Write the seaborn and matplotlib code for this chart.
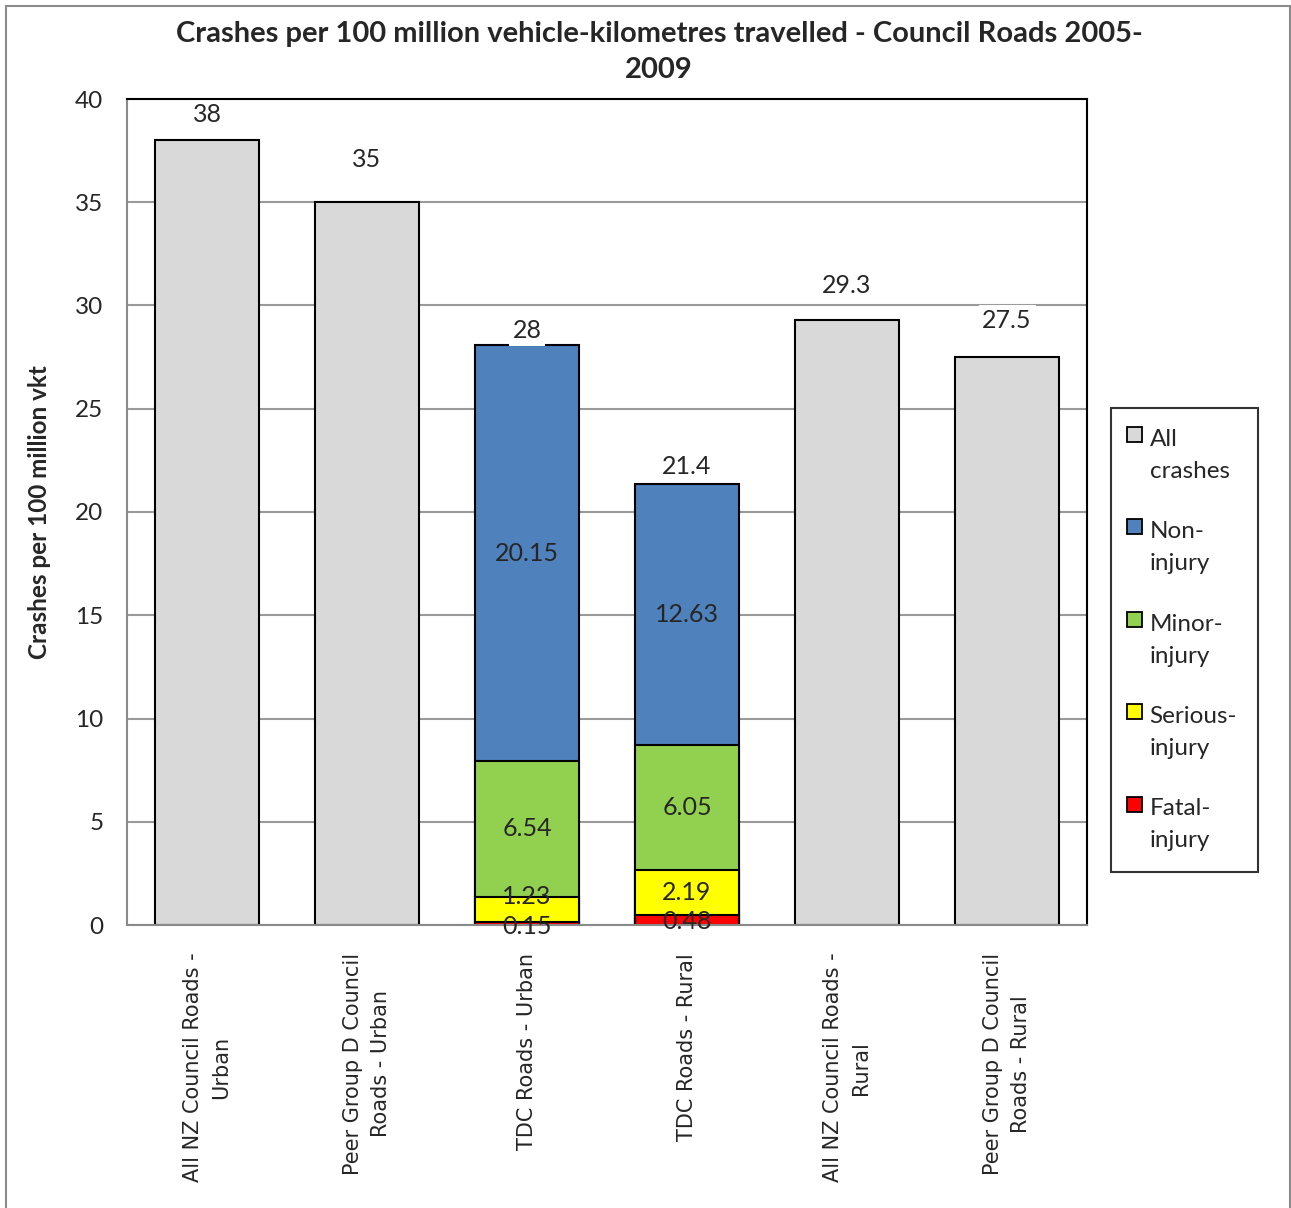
import numpy as np
import pandas as pd
import matplotlib
matplotlib.use("Agg")
import matplotlib.pyplot as plt
import matplotlib.patches as mpatches
from matplotlib.font_manager import FontProperties
from matplotlib.legend_handler import HandlerBase
import seaborn as sns

categories = ["All NZ Council Roads -\nUrban", "Peer Group D Council\nRoads - Urban",
              "TDC Roads - Urban", "TDC Roads - Rural",
              "All NZ Council Roads -\nRural", "Peer Group D Council\nRoads - Rural"]
all_crashes = [38, 35, np.nan, np.nan, 29.3, 27.5]
total_labels = ["38", "35", "28", "21.4", "29.3", "27.5"]
fatal = [np.nan, np.nan, 0.15, 0.48, np.nan, np.nan]
serious = [np.nan, np.nan, 1.23, 2.19, np.nan, np.nan]
minor = [np.nan, np.nan, 6.54, 6.05, np.nan, np.nan]
non_injury = [np.nan, np.nan, 20.15, 12.63, np.nan, np.nan]
series_names = ["All\ncrashes", "Non-\ninjury", "Minor-\ninjury", "Serious-\ninjury", "Fatal-\ninjury"]
yticks = [0, 5, 10, 15, 20, 25, 30, 35, 40]

colors = {"all": "#D9D9D9", "non": "#4F81BD", "minor": "#92D050", "serious": "#FFFF00", "fatal": "#FF0000"}

sns.set_theme(style="white")
plt.rcParams["font.family"] = ["Lato", "DejaVu Sans"]

fig = plt.figure(figsize=(12.91, 12.08), dpi=100)
ax = fig.add_axes([127/1291, 1-925/1208, (1087-127)/1291, (925-99)/1208])

df = pd.DataFrame({"cat": categories, "all": all_crashes, "fatal": fatal, "serious": serious,
                   "minor": minor, "non": non_injury})
df["c_fatal"] = df["fatal"]
df["c_serious"] = df["fatal"] + df["serious"]
df["c_minor"] = df["c_serious"] + df["minor"]
df["c_non"] = df["c_minor"] + df["non"]

W = 0.65
common = dict(x="cat", order=categories, width=W, edgecolor="black", linewidth=1.5, ax=ax,
              errorbar=None, zorder=2, saturation=1)
sns.barplot(data=df, y="all", color=colors["all"], **common)
sns.barplot(data=df, y="c_non", color=colors["non"], **common)
sns.barplot(data=df, y="c_minor", color=colors["minor"], **common)
sns.barplot(data=df, y="c_serious", color=colors["serious"], **common)
sns.barplot(data=df, y="c_fatal", color=colors["fatal"], **common)

ax.set_ylim(0, 40)
ax.set_xlim(-0.5, 5.5)
ax.set_yticks(yticks)
ax.set_yticklabels([str(t) for t in yticks], fontsize=17.5)
ax.tick_params(axis="y", length=0, pad=17)
ax.tick_params(axis="x", length=0, pad=20)
ax.set_xticks(range(len(categories)))
xfp = FontProperties(family="DejaVu Sans", size=15)
ax.set_xticklabels(categories, rotation=90, fontproperties=xfp, va="top", ha="center",
                   multialignment="center", linespacing=1.55)
ax.set_xlabel("")
ax.set_ylabel("")
ax.yaxis.grid(True, color="#9a9a9a", linewidth=1.5)
ax.set_axisbelow(True)
for s in ["top", "right"]:
    ax.spines[s].set_color("black")
    ax.spines[s].set_linewidth(1.5)
for s in ["left", "bottom"]:
    ax.spines[s].set_color("#8a8a8a")
    ax.spines[s].set_linewidth(1.5)

# total labels
offsets = [26, 43, 15, 18, 34, 37]
totals = [38, 35, df["c_non"][2], df["c_non"][3], 29.3, 27.5]
for i, (v, lab) in enumerate(zip(totals, total_labels)):
    ax.annotate(lab, (i, v), xytext=(0, offsets[i] * 0.72), textcoords="offset points",
                ha="center", va="center", fontsize=18, zorder=2.2,
                bbox=dict(boxstyle="square,pad=0.15", fc="white", ec="none"))

# segment labels (small segments nudged as in the original)
nudge = {(2, 0): -2, (2, 1): 9, (3, 0): -1, (3, 1): 0}
for i in [2, 3]:
    base = 0
    for j, vals in enumerate([fatal, serious, minor, non_injury]):
        v = vals[i]
        ax.annotate(f"{v:.2f}", (i, base + v / 2), xytext=(0, nudge.get((i, j), 0)),
                    textcoords="offset points", ha="center", va="center", fontsize=18, zorder=6)
        base += v

fig.suptitle("Crashes per 100 million vehicle-kilometres travelled - Council Roads 2005-\n2009",
             x=659/1291, y=1-21/1208, va="top", fontsize=21, fontweight="bold", linespacing=1.5)
fig.text(40/1291, 1-512/1208, "Crashes per 100 million vkt", rotation=90, ha="center", va="center",
         fontsize=17.5, fontweight="bold")


class TopSquare(HandlerBase):
    def __init__(self, center_up, dx):
        super().__init__()
        self.center_up = center_up
        self.dx = dx

    def create_artists(self, legend, orig_handle, xdescent, ydescent, width, height, fontsize, trans):
        s = 0.62 * fontsize
        y0 = self.center_up - s / 2
        r = mpatches.Rectangle((-xdescent + self.dx, y0), s, s, facecolor=orig_handle.get_facecolor(),
                               edgecolor="black", linewidth=1.3, transform=trans)
        return [r]


LEG_FS = 17.5
handles = [mpatches.Patch(facecolor=colors[k], edgecolor="black")
           for k in ["all", "non", "minor", "serious", "fatal"]]
leg = fig.legend(handles, series_names, loc="upper left", bbox_to_anchor=(1111/1291, 1-408/1208),
                 fontsize=LEG_FS, frameon=True, fancybox=False, edgecolor="black", handlelength=0.62,
                 handleheight=1.0, handletextpad=0.12, labelspacing=1.62, borderpad=0.85,
                 borderaxespad=0,
                 handler_map={mpatches.Patch: TopSquare(21, -3.6)})
leg.get_frame().set_linewidth(1.5)
for t in leg.get_texts():
    t.set_linespacing(1.65)

fig.patches.append(mpatches.Rectangle((6/1291, -0.01), 1284/1291, 1.01-6/1208, transform=fig.transFigure,
                                      fill=False, edgecolor="#8c8c8c", linewidth=1.5))

fig.savefig("out.png", dpi=100)
